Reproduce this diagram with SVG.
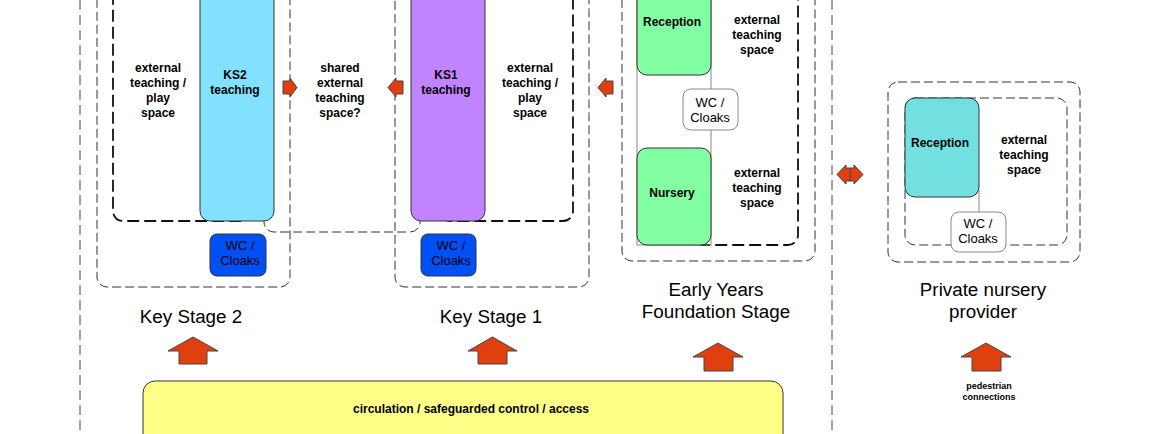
<svg xmlns="http://www.w3.org/2000/svg" width="1171" height="434" viewBox="0 0 1171 434">
<style>
text{font-family:"Liberation Sans",Arial,Helvetica,sans-serif;fill:#000;text-anchor:middle}
.t{font-size:12px;font-weight:bold}
.w{font-size:13px}
.h{font-size:18.8px}
.s{font-size:9px;font-weight:bold}
.thin{fill:none;stroke:#333;stroke-width:1;stroke-dasharray:9 4}
.thick{fill:none;stroke:#111;stroke-width:1.8;stroke-dasharray:12 5}
.page{fill:none;stroke:#444;stroke-width:1;stroke-dasharray:10 5}
.bar{stroke:#333;stroke-width:1}
.arr{fill:#E04010;stroke:#444;stroke-width:1;stroke-linejoin:miter}
.grey{fill:none;stroke:#888;stroke-width:1}
</style>
<rect width="1171" height="434" fill="#fff"/>

<g id="page-lines">
<line class="page" x1="80" y1="0" x2="80" y2="434"/>
<line class="page" x1="832" y1="0" x2="832" y2="434"/>
</g>

<g id="shared">
<rect class="thin" x="264" y="-20" width="156" height="252" rx="10"/>
<text class="t" x="340" y="72">shared</text>
<text class="t" x="340" y="87">external</text>
<text class="t" x="340" y="102">teaching</text>
<text class="t" x="340" y="117">space?</text>
</g>

<g id="ks2">
<rect class="thin" x="97" y="-20" width="193" height="307" rx="10"/>
<rect class="thick" x="113" y="-20" width="140" height="241" rx="10"/>
<rect class="bar" x="200" y="-20" width="74" height="241" rx="10" fill="#82E1FF"/>
<text class="t" x="158" y="72">external</text>
<text class="t" x="158" y="87">teaching /</text>
<text class="t" x="158" y="102">play</text>
<text class="t" x="158" y="117">space</text>
<text class="t" x="235" y="79">KS2</text>
<text class="t" x="235" y="94">teaching</text>
<rect class="bar" x="210" y="234" width="56" height="42" rx="7" fill="#0050F5"/>
<text class="w" x="240" y="250">WC /</text>
<text class="w" x="240" y="265">Cloaks</text>
<text class="h" x="191" y="323">Key Stage 2</text>
</g>

<g id="ks1">
<rect class="thin" x="395" y="-20" width="194" height="307" rx="10"/>
<rect class="thick" x="440" y="-20" width="133" height="241" rx="10"/>
<rect class="bar" x="411" y="-20" width="74" height="241" rx="10" fill="#C283FF"/>
<text class="t" x="446" y="79">KS1</text>
<text class="t" x="446" y="94">teaching</text>
<text class="t" x="530" y="72">external</text>
<text class="t" x="530" y="87">teaching /</text>
<text class="t" x="530" y="102">play</text>
<text class="t" x="530" y="117">space</text>
<rect class="bar" x="421" y="234" width="55" height="42" rx="7" fill="#0050F5"/>
<text class="w" x="451" y="250">WC /</text>
<text class="w" x="451" y="265">Cloaks</text>
<text class="h" x="491" y="323">Key Stage 1</text>
</g>

<g id="eyfs">
<rect class="thin" x="622" y="-20" width="193" height="281" rx="10"/>
<path class="thick" d="M700 -20 H788 A10 10 0 0 1 798 -10 V235 A10 10 0 0 1 788 245 H700"/>
<rect class="grey" x="637" y="-20" width="74" height="265"/>
<rect class="bar" x="637" y="-20" width="74" height="95" rx="10" fill="#82FFA2"/>
<rect class="bar" x="637" y="148" width="74" height="97" rx="10" fill="#82FFA2"/>
<text class="t" x="672" y="26">Reception</text>
<text class="t" x="672" y="197">Nursery</text>
<rect x="683" y="89" width="55" height="41" rx="8" fill="#fff" stroke="#888" stroke-width="1"/>
<text class="w" x="710" y="107">WC /</text>
<text class="w" x="710" y="122">Cloaks</text>
<text class="t" x="757" y="24">external</text>
<text class="t" x="757" y="39">teaching</text>
<text class="t" x="757" y="54">space</text>
<text class="t" x="757" y="177">external</text>
<text class="t" x="757" y="192">teaching</text>
<text class="t" x="757" y="207">space</text>
<text class="h" x="716" y="296">Early Years</text>
<text class="h" x="716" y="318">Foundation Stage</text>
</g>

<g id="private">
<rect class="thin" x="888" y="82" width="192" height="180" rx="10"/>
<rect class="thin" x="905" y="98" width="162" height="147" rx="10"/>
<line class="grey" x1="979" y1="190" x2="979" y2="212"/>
<rect class="bar" x="905" y="98" width="74" height="99" rx="10" fill="#72E0E0"/>
<text class="t" x="940" y="147">Reception</text>
<rect x="951" y="212" width="55" height="40" rx="8" fill="#fff" stroke="#888" stroke-width="1"/>
<text class="w" x="978" y="228">WC /</text>
<text class="w" x="978" y="243">Cloaks</text>
<text class="t" x="1024" y="144">external</text>
<text class="t" x="1024" y="159">teaching</text>
<text class="t" x="1024" y="174">space</text>
<text class="h" x="983" y="296">Private nursery</text>
<text class="h" x="983" y="318">provider</text>
</g>

<g id="circulation">
<rect class="bar" x="143" y="381" width="640" height="70" rx="12" fill="#FFFF88"/>
<text class="t" x="471" y="413">circulation / safeguarded control / access</text>
<text class="s" x="989" y="389">pedestrian</text>
<text class="s" x="989" y="400">connections</text>
</g>

<g id="connectors">
<polygon class="arr" points="283,81 290,81 290,78 297,87.5 290,97 290,94 283,94"/>
<polygon class="arr" points="403,81 396,81 396,78 388,87.5 396,97 396,94 403,94"/>
<polygon class="arr" points="613,81 606,81 606,78 598,87.5 606,97 606,94 613,94"/>
<polygon class="arr" points="846,168 854,168 854,165 863,174.5 854,184 854,181 846,181 846,184 837,174.5 846,165"/>
<line x1="850" y1="168" x2="850" y2="181" stroke="#444" stroke-width="1"/>
<polygon class="arr" points="193,337 218,351 207,351 207,364 179,364 179,351 168,351"/>
<polygon class="arr" points="492.5,337 517,351 507,351 507,364 478,364 478,351 468,351"/>
<polygon class="arr" points="718,343 743,357 733,357 733,371 704,371 704,357 693,357"/>
<polygon class="arr" points="986,343 1011,357 1001,357 1001,371 972,371 972,357 961,357"/>
</g>
</svg>
